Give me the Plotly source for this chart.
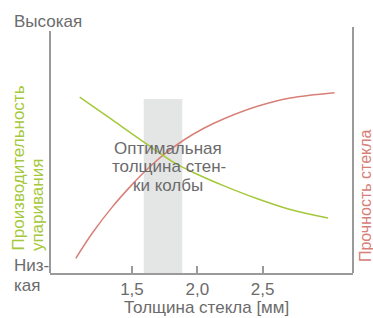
import plotly.graph_objects as go

# Data
red_x = [1.07, 1.20, 1.35, 1.49, 1.62, 1.75, 1.90, 2.05, 2.20, 2.46, 2.71, 3.05]
red_y = [0.60, 1.66, 2.71, 3.56, 4.27, 4.88, 5.46, 5.93, 6.31, 6.83, 7.17, 7.39]
green_x = [1.10, 1.35, 1.60, 1.83, 1.97, 2.20, 2.46, 2.71, 3.00]
green_y = [7.21, 6.27, 5.33, 4.50, 4.12, 3.58, 3.04, 2.60, 2.25]
optimal_x = [1.59, 1.885]
optimal_top = 7.13
tick_vals = [1.5, 2.0, 2.5]
tick_text = ["1,5", "2,0", "2,5"]

FONT = "Arial, Liberation Sans, sans-serif"
GREY_TEXT = "#6b6b6b"
AXIS = "#9a9a9a"
GREEN = "#a5c83a"
RED = "#d88078"
FS = 17

fig = go.Figure()
fig.add_shape(type="rect", xref="x", yref="y", x0=optimal_x[0], x1=optimal_x[1],
              y0=0, y1=optimal_top, fillcolor="#e4e5e5", line_width=0, layer="below")
fig.add_trace(go.Scatter(x=red_x, y=red_y, mode="lines", line=dict(color=RED, width=1.5, shape="spline"),
                         hoverinfo="skip"))
fig.add_trace(go.Scatter(x=green_x, y=green_y, mode="lines", line=dict(color=GREEN, width=1.5, shape="spline"),
                         hoverinfo="skip"))

# vertical axis lines
fig.add_shape(type="line", xref="paper", yref="paper", x0=0, x1=0, y0=0, y1=0.984,
              line=dict(color=AXIS, width=2))
fig.add_shape(type="line", xref="paper", yref="paper", x0=1, x1=1, y0=0, y1=1.0,
              line=dict(color=AXIS, width=2))

ann = []
def txt(text, x, y, color=GREY_TEXT, xanchor="center", angle=0, size=FS):
    ann.append(dict(text=text, x=x, y=y, xref="paper", yref="paper", showarrow=False,
                    xanchor=xanchor, yanchor="middle", textangle=angle,
                    font=dict(family=FONT, size=size, color=color)))

txt("Высокая", -0.1254, 1.024, xanchor="left")
txt("Низ-", -0.1254, 0.0285, xanchor="left")
txt("кая", -0.1254, -0.0488, xanchor="left")
txt("Оптимальная", 0.388, 0.508)
txt("толщина стен-", 0.393, 0.431)
txt("ки колбы", 0.388, 0.354)
txt("Производительность", -0.1056, 0.4248, color=GREEN, angle=-90)
txt("упаривания", -0.0429, 0.276, color=GREEN, angle=-90)
txt("Прочность стекла", 1.040, 0.313, color=RED, angle=-90, size=16)
txt("Толщина стекла [мм]", 0.516, -0.142)

fig.update_layout(
    width=373, height=318,
    margin=dict(l=50, r=20, t=27, b=45),
    paper_bgcolor="white", plot_bgcolor="white",
    showlegend=False,
    annotations=ann,
    xaxis=dict(range=[0.873, 3.191], showgrid=False, zeroline=False, showline=True,
               linecolor=AXIS, linewidth=2, ticks="inside", ticklen=7, tickwidth=1.5,
               tickcolor=AXIS, tickvals=tick_vals, ticktext=tick_text,
               tickfont=dict(family=FONT, size=FS, color=GREY_TEXT)),
    yaxis=dict(range=[0, 10.08], showgrid=False, zeroline=False, showline=False,
               showticklabels=False, ticks=""),
)

fig.write_html("out.html", config={"displayModeBar": False},
               post_script="document.body.style.margin='0';document.body.style.overflow='hidden';")
